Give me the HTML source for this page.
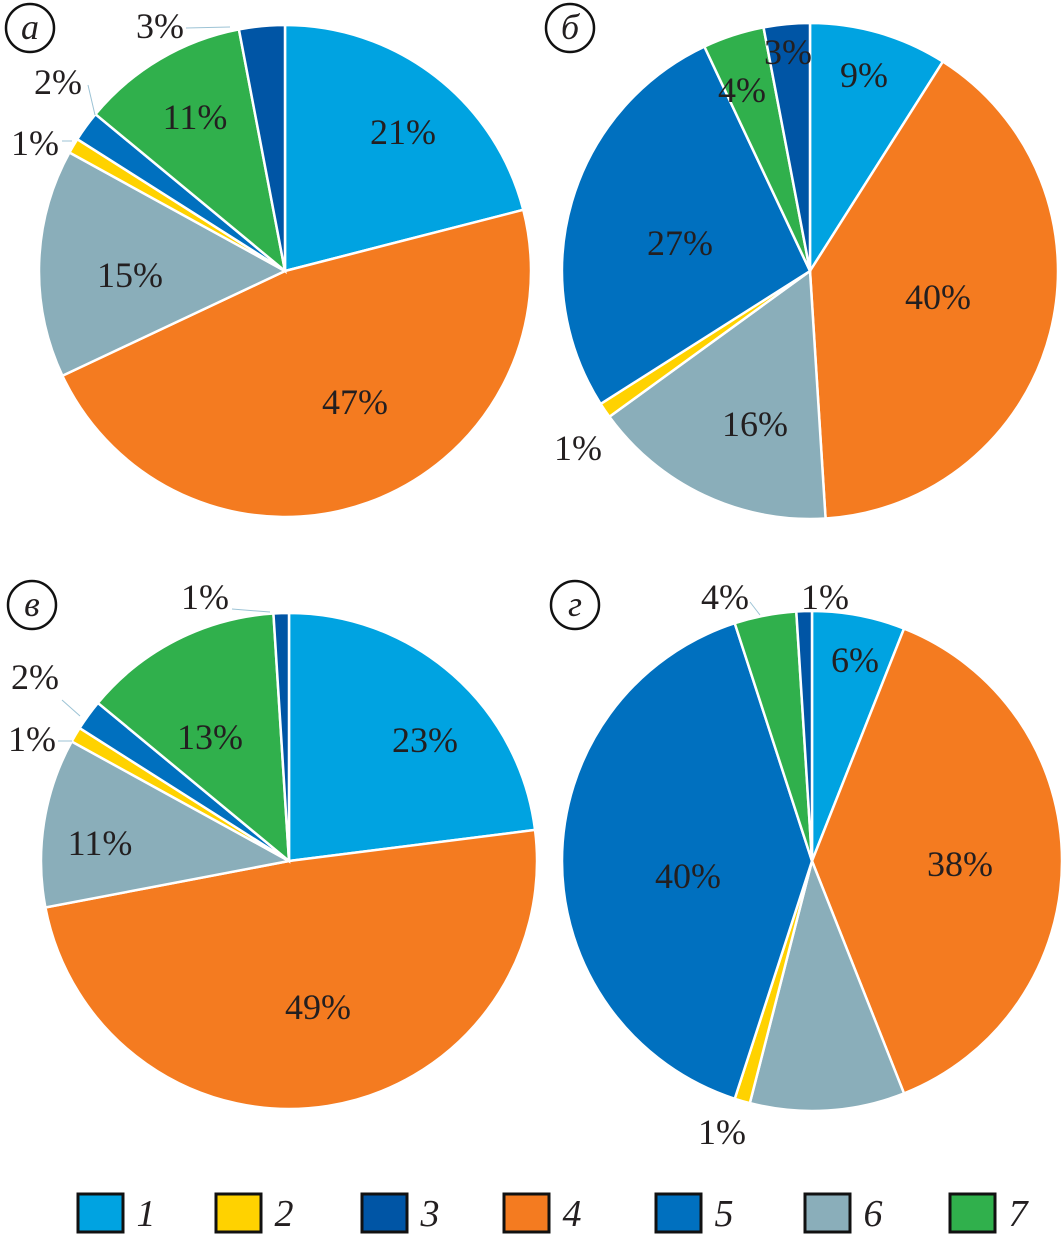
<!DOCTYPE html>
<html><head><meta charset="utf-8"><style>
body{margin:0;background:#fff;}
svg{display:block;}
text{font-family:"Liberation Serif",serif;fill:#231f20;}
</style></head><body>
<svg id="chart" width="1063" height="1240" viewBox="0 0 1063 1240" xmlns="http://www.w3.org/2000/svg"></svg>
<script>
const categories = ["1","2","3","4","5","6","7"];
const sliceOrder = [0,3,5,1,4,6,2];
const colors = ["#00a3e1","#ffd200","#0055a5","#f47b20","#0070bf","#8aaeba","#30b04c"];
const valuesA = [21,47,15,1,2,11,3];
const valuesB = [9,40,16,1,27,4,3];
const valuesV = [23,49,11,1,2,13,1];
const valuesG = [6,38,10,1,40,4,1];
const labelsA = ["21%","47%","15%","1%","2%","11%","3%"];
const labelsB = ["9%","40%","16%","1%","27%","4%","3%"];
const labelsV = ["23%","49%","11%","1%","2%","13%","1%"];
const labelsG = ["6%","38%","","1%","40%","4%","1%"];
const panelLetters = ["а","б","в","г"];

const pies = [
 {name:"a",vals:valuesA,labs:labelsA,cx:285,cy:271,r:246,letter:[30,28],
  lp:[[403,132],[355,402],[130,275],[35,143],[58,82],[195,117],[160,26]],
  lines:[[null],[null],[null],[[62,141],[72,141]],[[88,85],[95,115]],[null],[[186,28],[230,27]]]},
 {name:"b",vals:valuesB,labs:labelsB,cx:810,cy:271,r:248,letter:[570,28],
  lp:[[864,75],[938,297],[755,424],[578,448],[680,243],[742,90],[788,52]],lines:[]},
 {name:"v",vals:valuesV,labs:labelsV,cx:289,cy:861,r:248,letter:[32,605],
  lp:[[425,740],[318,1007],[100,843],[32,739],[35,677],[210,737],[205,597]],
  lines:[[null],[null],[null],[[58,741],[72,741]],[[62,700],[80,716]],[null],[[232,609],[270,612]]]},
 {name:"g",vals:valuesG,labs:labelsG,cx:812,cy:861,r:250,letter:[575,605],
  lp:[[855,660],[960,864],[0,0],[722,1132],[688,876],[725,597],[825,597]],
  lines:[[null],[null],[null],[null],[null],[[750,602],[760,615]],[null]]}
];
const svg = document.getElementById('chart');
const NS = "http://www.w3.org/2000/svg";
function mk(tag, attrs){const e=document.createElementNS(NS,tag);for(const k in attrs)e.setAttribute(k,attrs[k]);return e;}
function pt(cx,cy,r,frac){const a=frac*2*Math.PI;return [cx+r*Math.sin(a),cy-r*Math.cos(a)];}

pies.forEach((p,pi)=>{
  const g = mk('g',{});
  
  
  svg.appendChild(g);
  const total = p.vals.reduce((s,v)=>s+v,0);
  let acc=0;
  p.vals.forEach((v,i)=>{
    const f0=acc/total, f1=(acc+v)/total; acc+=v;
    const a=pt(p.cx,p.cy,p.r,f0), b=pt(p.cx,p.cy,p.r,f1);
    const large=(f1-f0)>0.5?1:0;
    const path = mk('path',{d:`M${p.cx},${p.cy} L${a[0]},${a[1]} A${p.r},${p.r} 0 ${large} 1 ${b[0]},${b[1]} Z`,fill:colors[sliceOrder[i]],stroke:"#fff","stroke-width":2.5});
    
    
    g.appendChild(path);
  });
  p.labs.forEach((t,i)=>{
    if(!t) return;
    const ln = p.lines[i];
    if(ln && ln.length===2){
      const l = mk('line',{x1:ln[0][0],y1:ln[0][1],x2:ln[1][0],y2:ln[1][1],stroke:"#9cc3d5","stroke-width":1});
      
      
      g.appendChild(l);
    }
    const tx = mk('text',{x:p.lp[i][0],y:p.lp[i][1]+12,"font-size":36,"text-anchor":"middle"});
    tx.textContent=t;
    
    
    g.appendChild(tx);
  });
  const c = mk('circle',{cx:p.letter[0],cy:p.letter[1],r:24,fill:"#fff",stroke:"#111","stroke-width":2.5});
  
  
  g.appendChild(c);
  const lt = mk('text',{x:p.letter[0],y:p.letter[1]+11,"font-size":36,"font-style":"italic","text-anchor":"middle"});
  lt.textContent=panelLetters[pi];
  
  
  g.appendChild(lt);
});

const legX=[78,216,362,504,656,805,950];
categories.forEach((c,i)=>{
  const g=mk('g',{});
  
  
  svg.appendChild(g);
  const r=mk('rect',{x:legX[i],y:1194,width:45,height:38,fill:colors[i],stroke:"#111","stroke-width":3});
  
  
  g.appendChild(r);
  const t=mk('text',{x:legX[i]+68,y:1226,"font-size":38,"font-style":"italic","text-anchor":"middle"});
  t.textContent=c;
  
  
  g.appendChild(t);
});
</script>
</body></html>
